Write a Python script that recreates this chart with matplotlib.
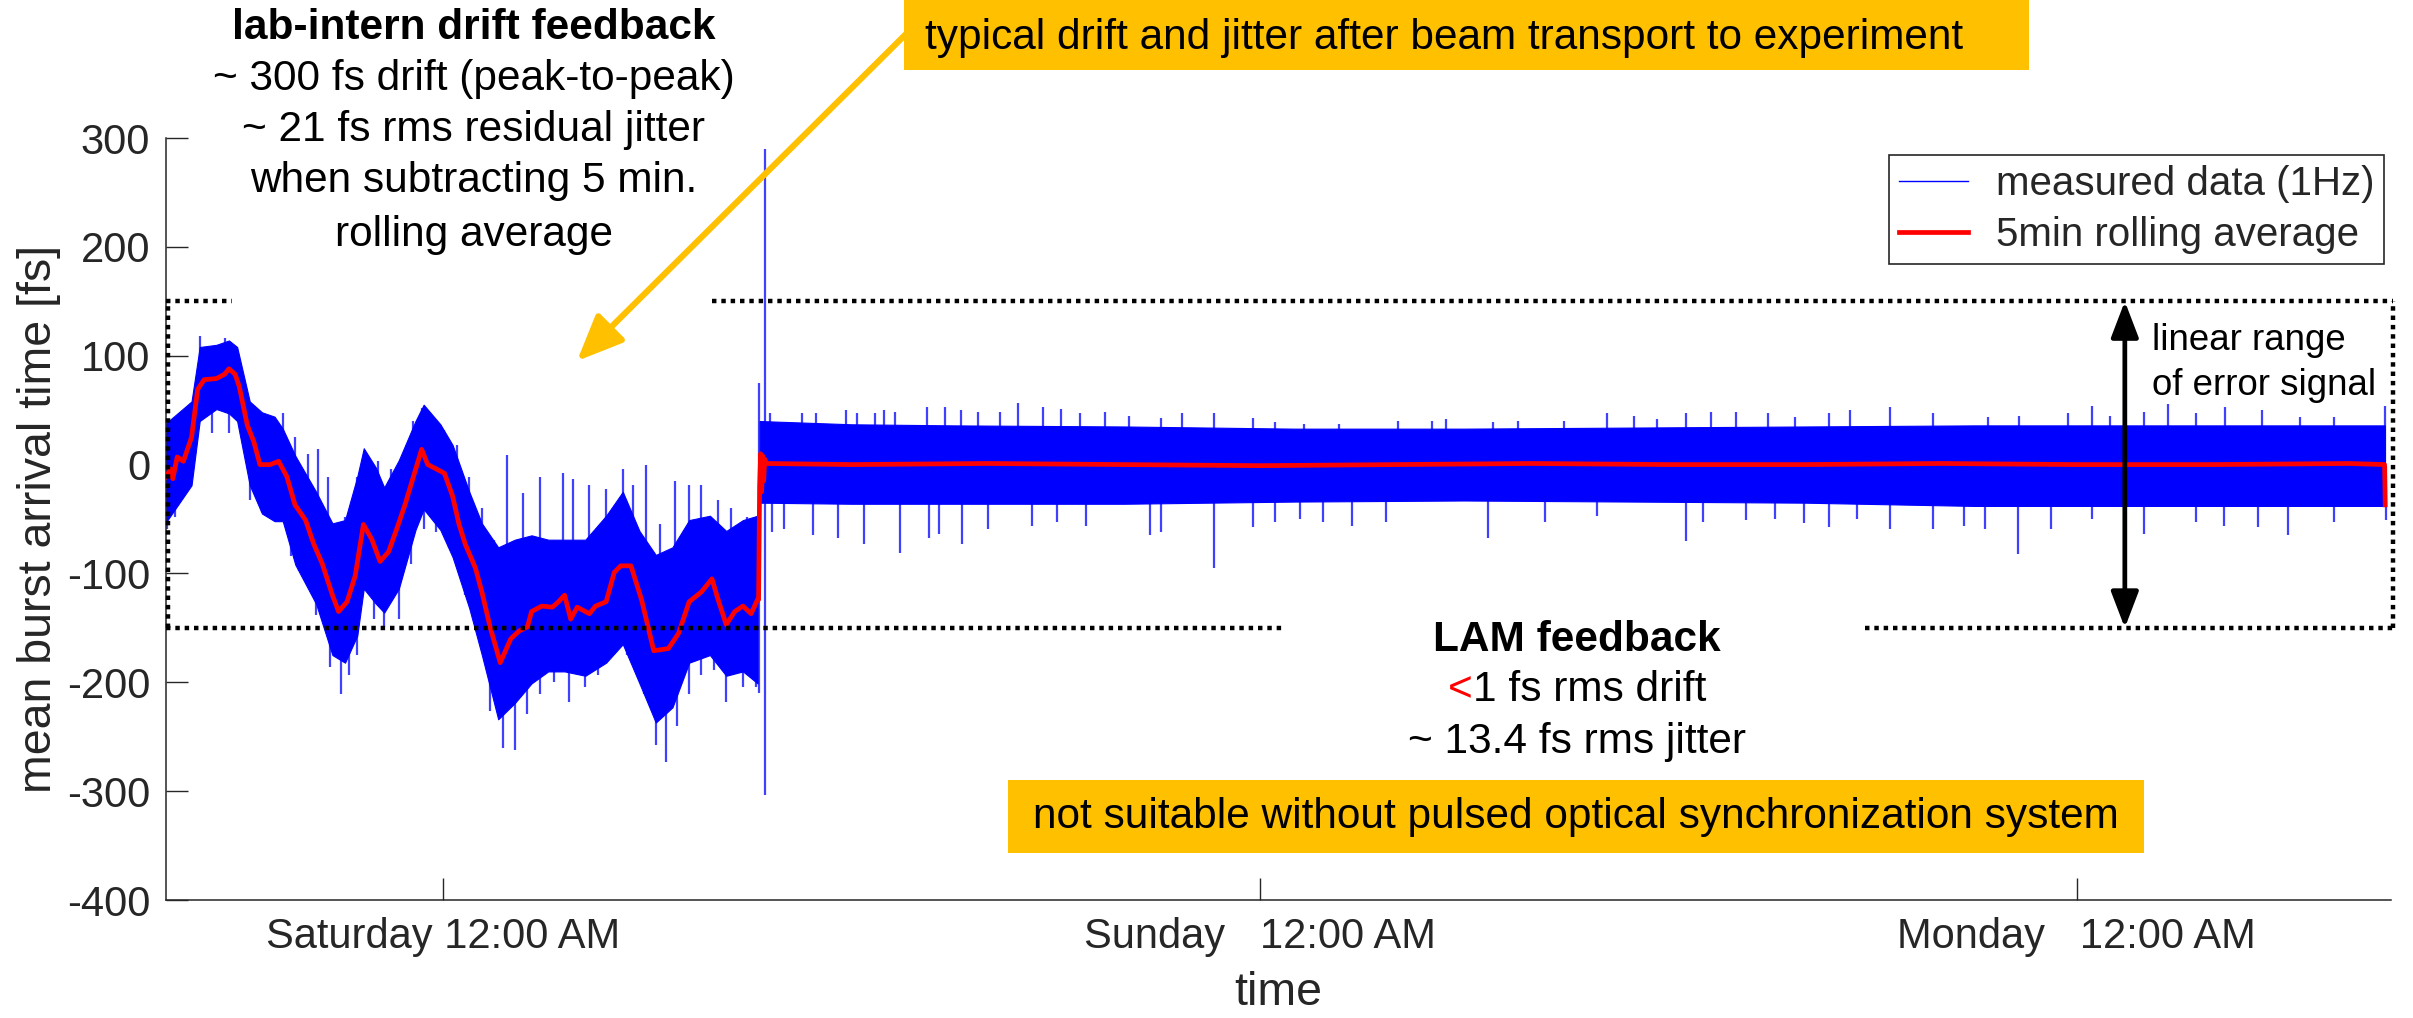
import numpy as np
import matplotlib
matplotlib.use('Agg')
import matplotlib.pyplot as plt
from matplotlib.lines import Line2D
from matplotlib.patches import Rectangle, FancyArrowPatch

plt.rcParams['font.family'] = ['Liberation Sans', 'DejaVu Sans']
plt.rcParams['axes.unicode_minus'] = False

# time axis in hours, 0 = Saturday 12:00 AM
tick_hours = [0, 24, 48]
tick_labels = ['Saturday 12:00 AM', 'Sunday   12:00 AM', 'Monday   12:00 AM']
yticks = [-400, -300, -200, -100, 0, 100, 200, 300]

# 5 min rolling average (red)
avg_t = [-8.14, -8.00, -7.94, -7.81, -7.63, -7.39, -7.21, -7.02, -6.66, -6.42, -6.29, -6.11,
         -5.99, -5.75, -5.56, -5.38, -5.08, -4.83, -4.59, -4.35, -4.04, -3.80, -3.55, -3.25,
         -3.07, -2.82, -2.58, -2.34, -2.09, -1.85, -1.60, -1.36, -1.12, -0.87, -0.63, -0.45,
         -0.20, 0.04, 0.28, 0.47, 0.65, 0.95, 1.14, 1.38, 1.68, 1.99, 2.23, 2.48, 2.60, 2.90,
         3.21, 3.39, 3.57, 3.75, 3.94, 4.30, 4.48, 4.79, 5.03, 5.22, 5.52, 5.83, 6.19, 6.62,
         6.92, 7.23, 7.59, 7.90, 8.08, 8.32, 8.57, 8.81, 9.05, 9.24,
         9.27, 9.30, 9.33, 9.36, 9.39, 9.42, 9.45, 9.50,
         12, 16, 20, 24, 28, 32, 36, 40, 44, 48, 52, 56, 57.04, 57.06]
avg_v = [-11, -4, -13, 7, 3, 25, 69, 78, 79, 83, 88, 83,
         72, 36, 21, 0, 0, 3, -11, -37, -51, -73, -91, -120,
         -135, -126, -102, -55, -69, -89, -80, -59, -37, -11, 14, 0,
         -4, -8, -29, -55, -73, -95, -117, -149, -182, -160, -153, -149, -135, -130,
         -131, -126, -120, -142, -131, -137, -130, -126, -99, -93, -93, -124, -171, -169,
         -155, -126, -117, -105, -124, -147, -135, -130, -137, -124,
         -124, -20, 10, -25, 8, -15, 5, 1,
         0, 1, 0, -1, 0, 1, 0, 0, 1, 0, 0, 1, 0, -37]

# measured data (blue): dense envelope, lab-intern feedback part
band1_t = [-8.14, -7.39, -7.15, -6.66, -6.29, -6.05, -5.68, -5.32, -4.95, -4.71, -4.34, -3.73,
           -3.25, -2.88, -2.52, -2.33, -1.97, -1.73, -1.30, -0.81, -0.57, -0.08, 0.28, 0.77,
           1.14, 1.62, 2.11, 2.60, 3.09, 3.57, 4.18, 4.79, 5.28, 5.77, 6.25, 6.74, 7.23, 7.84,
           8.32, 8.81, 9.24]
band1_hi = [38, 58, 108, 110, 114, 108, 58, 48, 44, 33, 8, -25,
            -54, -51, -11, 15, -3, -21, 4, 40, 55, 37, 18, -25,
            -54, -76, -69, -65, -69, -69, -69, -47, -25, -61, -83, -76, -51, -47,
            -61, -51, -47]
band1_lo = [-53, -19, 40, 51, 47, 40, -19, -45, -52, -52, -92, -128,
            -175, -182, -157, -114, -128, -136, -114, -60, -41, -60, -85, -132,
            -175, -234, -219, -201, -190, -190, -194, -182, -165, -201, -237, -223, -182, -175,
            -194, -190, -201]

# LAM feedback part
band2_t = [9.30, 12, 15, 20, 25, 30, 35, 40, 45, 50, 55, 57.05]
band2_hi = [40, 37, 36, 35, 33, 33, 34, 35, 36, 36, 36, 36]
band2_lo = [-35, -36, -36, -36, -34, -33, -34, -35, -38, -38, -38, -38]

# single outliers sticking out of the band
spike_up_t = [-8.06, -7.45, -7.15, -6.78, -6.41, -6.17, -5.81, -5.44, -5.07, -4.71, -4.34, -3.98,
              -3.67, -3.37, -2.88, -2.52, -2.27, -1.91, -1.54, -1.18, -0.87, -0.63, -0.32, 0.04,
              0.41, 0.77, 1.14, 1.50, 1.87, 2.36, 2.84, 3.51, 3.82, 4.30, 4.79, 5.28, 5.58,
              5.95, 6.37, 6.80, 7.23, 7.59, 8.08, 8.45, 8.93, 9.28, 9.46,
              9.60, 10.54, 10.96, 11.85, 12.17, 12.69, 12.95, 13.27, 14.21, 14.74, 15.21, 15.73,
              16.36, 16.89, 17.62, 18.15, 18.72, 19.46, 20.14, 21.08, 21.71, 22.66, 23.81, 24.44,
              25.28, 26.33, 28.06, 29.06, 29.48, 30.85, 31.58, 32.94, 34.20, 34.99, 35.67,
              36.51, 37.24, 37.98, 38.92, 39.71, 40.71, 41.33, 42.50, 43.77, 45.40, 46.31,
              47.74, 48.45, 48.96, 49.97, 50.69, 51.50, 52.36, 53.43, 54.55, 55.57, 57.04]
spike_up_v = [40, 50, 118, 108, 116, 105, 47, 40, 32, 47, 25, 10,
              14, -11, -48, -11, 7, 3, -4, 10, 40, 52, 40, 32,
              18, -11, -40, -69, 9, -26, -11, -8, -13, -19, -22, -4, -19,
              0, -55, -15, -19, -19, -33, -40, -48, 75, 290,
              47, 47, 47, 50, 47, 47, 50, 48, 53, 53, 50, 48,
              48, 57, 53, 51, 47, 48, 45, 43, 47, 47, 43, 39,
              37, 37, 40, 40, 42, 39, 40, 40, 47, 45, 42,
              47, 48, 48, 47, 44, 47, 50, 53, 47, 44, 45,
              47, 54, 45, 48, 56, 47, 53, 50, 44, 44, 54]
spike_dn_t = [-8.12, -7.88, -7.27, -6.78, -6.29, -5.68, -5.32, -4.95, -4.47, -4.22, -3.73, -3.31,
              -3.00, -2.76, -2.52, -2.03, -1.73, -1.30, -0.93, -0.57, -0.20, 0.16, 0.65, 1.02,
              1.38, 1.75, 2.11, 2.48, 2.84, 3.27, 3.70, 4.18, 4.55, 4.91, 5.40, 5.89, 6.25,
              6.56, 6.86, 7.23, 7.59, 7.96, 8.32, 8.81, 9.18, 9.27, 9.46,
              9.65, 10.02, 10.86, 11.59, 12.38, 13.43, 14.27, 14.58, 15.26, 16.00, 17.31, 18.04,
              18.88, 20.77, 21.08, 22.66, 23.81, 24.44, 25.17, 25.86, 26.70, 27.70, 30.69,
              32.37, 33.89, 36.51, 37.03, 38.29, 39.13, 39.97, 40.71, 41.54, 42.50, 43.77,
              44.69, 45.30, 46.28, 47.23, 48.45, 49.97, 51.50, 52.31, 53.33, 54.20, 55.57, 57.09]
spike_dn_v = [-59, -48, 25, 29, 29, -33, -44, -48, -84, -98, -138, -186,
              -211, -193, -175, -142, -149, -142, -91, -59, -62, -77, -120, -157,
              -226, -260, -262, -229, -211, -200, -218, -204, -193, -178, -175, -211, -258,
              -273, -240, -211, -193, -189, -218, -204, -204, -210, -304,
              -62, -59, -65, -67, -73, -81, -67, -64, -73, -59, -56, -53,
              -56, -65, -62, -95, -57, -53, -50, -53, -56, -53, -67,
              -53, -47, -70, -53, -51, -50, -54, -57, -50, -59, -59,
              -56, -59, -82, -59, -50, -64, -53, -56, -57, -65, -53, -51]

W, H = 2413, 1018


def fx(px):
    return px / W


def fy(py):
    return 1 - py / H


fig = plt.figure(figsize=(W / 100, H / 100), dpi=100)
ax = fig.add_axes([fx(166), fy(900), (2391 - 166) / W, (900 - 138) / H])

# blue measured data
ax.fill_between(band1_t, band1_lo, band1_hi, color='blue', lw=0.8, edgecolor='blue', zorder=2)
ax.fill_between(band2_t, band2_lo, band2_hi, color='blue', lw=0.8, edgecolor='blue', zorder=2)
band_t = np.array(band1_t + band2_t)
band_mid = (np.array(band1_hi + band2_hi) + np.array(band1_lo + band2_lo)) / 2
ax.vlines(spike_up_t, np.interp(spike_up_t, band_t, band_mid), spike_up_v,
          color='blue', lw=1.6, alpha=0.75, zorder=2)
ax.vlines(spike_dn_t, np.interp(spike_dn_t, band_t, band_mid), spike_dn_v,
          color='blue', lw=1.6, alpha=0.75, zorder=2)

# red rolling average
ax.plot(avg_t, avg_v, color='red', lw=3.4, zorder=3)

x0, x1 = -8.14, 57.23
ax.set_xlim(x0, x1)
ax.set_ylim(-400, 300)

# dotted "linear range" box
dot = dict(color='black', lw=3.2, linestyle=(0, (1, 1.1)), zorder=4, clip_on=False)
ax.plot([x0, -6.20], [150, 150], **dot)
ax.plot([7.90, 57.3], [150, 150], **dot)
ax.plot([x0, 24.77], [-150, -150], **dot)
ax.plot([41.77, 57.3], [-150, -150], **dot)
ax.plot([-8.07, -8.07], [-150, 150], **dot)
ax.plot([57.3, 57.3], [-150, 150], **dot)

ax.annotate('', xy=(49.41, -150), xytext=(49.41, 150),
            arrowprops=dict(arrowstyle='<|-|>,head_length=1.1,head_width=0.42', mutation_scale=20,
                            lw=3.4, color='black', shrinkA=0, shrinkB=0), zorder=5)
ax.text(50.2, 114, 'linear range', fontsize=26.4, va='center', ha='left')
ax.text(50.2, 73, 'of error signal', fontsize=26.4, va='center', ha='left')

# axes styling (MATLAB look)
axcol = '#262626'
for s in ['top', 'right']:
    ax.spines[s].set_visible(False)
for s in ['left', 'bottom']:
    ax.spines[s].set_color(axcol)
    ax.spines[s].set_linewidth(1.1)
ax.set_xticks(tick_hours)
ax.set_xticklabels(tick_labels)
ax.set_yticks(yticks)
ax.set_yticklabels([str(v) for v in yticks])
ax.tick_params(axis='x', direction='in', length=16, width=1, colors=axcol, labelsize=30, pad=12)
ax.tick_params(axis='y', direction='in', length=16, width=1, colors=axcol, labelsize=30, pad=11.5)
ax.set_xlabel('time', fontsize=33.5, color=axcol)
ax.set_ylabel('mean burst arrival time [fs]', fontsize=33.5, color=axcol)
ax.xaxis.set_label_coords(0.5, -0.093)
ax.yaxis.set_label_coords(-0.047, 0.5)

handles = [Line2D([], [], color='blue', lw=1),
           Line2D([], [], color='red', lw=3.4)]
leg = ax.legend(handles, ['measured data (1Hz)', '5min rolling average'],
                loc='upper right', bbox_to_anchor=(0.997, 0.978), borderaxespad=0,
                fontsize=29, frameon=True, fancybox=False, framealpha=1,
                edgecolor=axcol, handlelength=1.7, handletextpad=0.7,
                borderpad=0.25, labelspacing=0.32)
leg.get_frame().set_linewidth(1.2)
for t in leg.get_texts():
    t.set_color(axcol)

# annotations on top of the figure
orange = '#FFC000'
fig.add_artist(FancyArrowPatch((fx(910), fy(30)), (fx(577), fy(361)), transform=fig.transFigure,
                               arrowstyle='-|>,head_length=1.4,head_width=0.6', mutation_scale=20,
                               lw=4.4, color=orange, shrinkA=0, shrinkB=0, zorder=5))
fig.add_artist(Rectangle((fx(904), fy(70)), fx(2029) - fx(904), fy(0) - fy(70),
                         transform=fig.transFigure, color=orange, lw=0, zorder=6))
fig.text(fx(925), fy(38), 'typical drift and jitter after beam transport to experiment',
         fontsize=30.5, ha='left', va='center', zorder=7)
fig.add_artist(Rectangle((fx(1008), fy(853)), fx(2144) - fx(1008), fy(780) - fy(853),
                         transform=fig.transFigure, color=orange, lw=0, zorder=6))
fig.text(fx(1576), fy(817), 'not suitable without pulsed optical synchronization system',
         fontsize=30.5, ha='center', va='center', zorder=7)

fig.text(fx(474), fy(28), 'lab-intern drift feedback', fontsize=30.5, fontweight='bold',
         ha='center', va='center')
fig.text(fx(474), fy(79), '~ 300 fs drift (peak-to-peak)', fontsize=30.5, ha='center', va='center')
fig.text(fx(474), fy(130), '~ 21 fs rms residual jitter', fontsize=30.5, ha='center', va='center')
fig.text(fx(474), fy(181), 'when subtracting 5 min.', fontsize=30.5, ha='center', va='center')
fig.text(fx(474), fy(235), 'rolling average', fontsize=30.5, ha='center', va='center')

fig.text(fx(1577), fy(640), 'LAM feedback', fontsize=30.5, fontweight='bold',
         ha='center', va='center')
fig.text(fx(1473), fy(690), '<', fontsize=30.5, color='red', ha='right', va='center')
fig.text(fx(1473), fy(690), '1 fs rms drift', fontsize=30.5, ha='left', va='center')
fig.text(fx(1577), fy(742), '~ 13.4 fs rms jitter', fontsize=30.5, ha='center', va='center')

fig.savefig('out.png', dpi=100)
